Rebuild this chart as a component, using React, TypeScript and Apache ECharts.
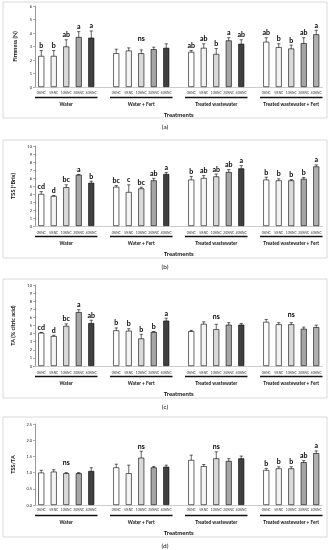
import React, { useEffect, useRef } from "react";
import * as echarts from "echarts";

const doses = ["0%NC", "5%NC", "10%NC", "20%NC", "40%NC"];
const groupNames = ["Water", "Water + Fert", "Treated wastewater", "Treated wastewater + Fert"];

// (a) Firmness (N)
const firmnessMean = [2.3, 2.3, 3.0, 3.7, 3.65, 2.5, 2.7, 2.5, 2.8, 2.9, 2.6, 2.9, 2.45, 3.45, 3.2, 3.35, 2.95, 2.85, 3.25, 3.9];
const firmnessErr = [0.4, 0.4, 0.5, 0.4, 0.5, 0.3, 0.2, 0.25, 0.15, 0.3, 0.1, 0.3, 0.4, 0.2, 0.3, 0.3, 0.25, 0.25, 0.4, 0.3];
const firmnessLetters = ["b", "b", "ab", "a", "a", "", "", "ns", "", "", "ab", "ab", "b", "a", "ab", "ab", "b", "b", "ab", "a"];

// (b) TSS (°Brix)
const tssMean = [4.0, 3.75, 4.85, 6.4, 5.4, 4.9, 4.25, 4.7, 5.7, 6.5, 5.8, 6.0, 6.2, 6.75, 7.2, 5.8, 5.7, 5.7, 5.9, 7.45];
const tssErr = [0.3, 0.05, 0.3, 0.05, 0.2, 0.15, 0.9, 0.15, 0.25, 0.2, 0.4, 0.3, 0.3, 0.3, 0.35, 0.3, 0.2, 0.1, 0.15, 0.2];
const tssLetters = ["cd", "d", "bc", "a", "b", "bc", "c", "bc", "ab", "a", "b", "ab", "ab", "ab", "a", "b", "b", "b", "b", "a"];

// (c) TA (% citric acid)
const taMean = [4.1, 3.7, 4.95, 6.65, 5.3, 4.4, 4.35, 3.4, 4.2, 5.6, 4.3, 5.2, 4.55, 5.1, 5.1, 5.45, 5.15, 5.15, 4.6, 4.8];
const taErr = [0.05, 0.1, 0.25, 0.3, 0.35, 0.3, 0.25, 0.5, 0.05, 0.3, 0.1, 0.25, 0.6, 0.25, 0.15, 0.3, 0.2, 0.2, 0.2, 0.25];
const taLetters = ["cd", "d", "bc", "a", "ab", "b", "b", "b", "b", "a", "", "", "ns", "", "", "", "", "ns", "", ""];

// (d) TSS/TA
const ratioMean = [1.0, 1.03, 0.98, 0.98, 1.05, 1.16, 0.98, 1.46, 1.16, 1.18, 1.39, 1.2, 1.44, 1.36, 1.44, 1.08, 1.13, 1.13, 1.32, 1.6];
const ratioErr = [0.07, 0.06, 0.02, 0.02, 0.1, 0.1, 0.25, 0.2, 0.03, 0.05, 0.15, 0.05, 0.2, 0.07, 0.07, 0.05, 0.05, 0.05, 0.05, 0.07];
const ratioLetters = ["", "", "ns", "", "", "", "", "ns", "", "", "", "", "ns", "", "", "b", "b", "b", "ab", "a"];

const FONT = "Lato";
const fills = ["#ffffff", "#f4f4f4", "#d9d9d9", "#a6a6a6", "#404040"];
const lastGroupFill5 = "#b0b0b0";

const slotOf = (i: number) => Math.floor(i / 5) * 6 + (i % 5);
const catLabels: string[] = [];
for (let g = 0; g < 4; g++) {
  doses.forEach((d) => catLabels.push(d));
  if (g < 3) catLabels.push("");
}

type Panel = {
  mean: number[];
  err: number[];
  letters: string[];
  yName: string;
  max: number;
  interval: number;
  decimals: number;
  top: number;
  height: number;
  boxTop: number;
  boxBottom: number;
  caption: string;
  labelMargin: number;
};

const panels: Panel[] = [
  { mean: firmnessMean, err: firmnessErr, letters: firmnessLetters, yName: "Firmness (N)", max: 6, interval: 1, decimals: 0, top: 6, height: 81, boxTop: 2, boxBottom: 118, caption: "(a)", labelMargin: 4.5 },
  { mean: tssMean, err: tssErr, letters: tssLetters, yName: "TSS (°Brix)", max: 10, interval: 1, decimals: 0, top: 146, height: 80, boxTop: 140, boxBottom: 258, caption: "(b)", labelMargin: 5 },
  { mean: taMean, err: taErr, letters: taLetters, yName: "TA (% citric acid)", max: 10, interval: 1, decimals: 0, top: 285, height: 81, boxTop: 279, boxBottom: 398, caption: "(c)", labelMargin: 5 },
  { mean: ratioMean, err: ratioErr, letters: ratioLetters, yName: "TSS/TA", max: 2.5, interval: 0.5, decimals: 1, top: 424, height: 81, boxTop: 417, boxBottom: 537, caption: "(d)", labelMargin: 3.5 },
];

export default function App() {
  const ref = useRef<HTMLDivElement>(null);
  useEffect(() => {
    if (!ref.current) return;
    const chart = echarts.init(ref.current, null, { renderer: "svg" });
    const grid: any[] = [];
    const xAxis: any[] = [];
    const yAxis: any[] = [];
    const series: any[] = [];
    const graphic: any[] = [];

    panels.forEach((p, k) => {
      grid.push({ left: 35, top: p.top, width: 287.5, height: p.height });
      xAxis.push({
        type: "category",
        gridIndex: k,
        data: catLabels,
        axisLine: { lineStyle: { color: "#bfbfbf", width: 0.8 } },
        axisTick: { show: false },
        axisLabel: { interval: 0, fontSize: 3.2, color: "#333", margin: p.labelMargin, fontFamily: FONT },
        name: "Treatments",
        nameLocation: "middle",
        nameGap: 24,
        nameTextStyle: { fontSize: 6, fontWeight: "bold", color: "#111", fontFamily: FONT },
      });
      yAxis.push({
        type: "value",
        gridIndex: k,
        min: 0,
        max: p.max,
        interval: p.interval,
        splitLine: { show: false },
        axisLine: { show: true, lineStyle: { color: "#7f7f7f", width: 0.8 } },
        axisTick: { show: true, length: 2, lineStyle: { color: "#7f7f7f", width: 0.6 } },
        axisLabel: {
          fontSize: 4,
          color: "#222",
          margin: 3,
          fontFamily: FONT,
          formatter: (v: number) => v.toFixed(p.decimals),
        },
        name: p.yName,
        nameLocation: "middle",
        nameGap: 17,
        nameTextStyle: { fontSize: 5.5, fontWeight: "bold", color: "#111", fontFamily: FONT },
      });

      const barData: any[] = catLabels.map(() => "-");
      p.mean.forEach((v, i) => {
        const g = Math.floor(i / 5);
        const j = i % 5;
        const color = g === 3 && j === 4 ? lastGroupFill5 : fills[j];
        barData[slotOf(i)] = { value: v, itemStyle: { color, borderColor: "#000", borderWidth: 0.6 } };
      });
      series.push({
        type: "bar",
        xAxisIndex: k,
        yAxisIndex: k,
        data: barData,
        barWidth: 6,
        silent: true,
      });

      const groupTop = [0, 1, 2, 3].map((g) => {
        let m = 0;
        for (let j = 0; j < 5; j++) m = Math.max(m, p.mean[g * 5 + j] + p.err[g * 5 + j]);
        return m;
      });

      series.push({
        type: "custom",
        xAxisIndex: k,
        yAxisIndex: k,
        clip: false,
        silent: true,
        data: p.mean.map((v, i) => [slotOf(i), v, i]),
        encode: { x: 0, y: 1 },
        renderItem: (params: any, api: any) => {
          const slot = api.value(0);
          const i = api.value(2);
          const v = p.mean[i];
          const e = p.err[i];
          const top = api.coord([slot, v + e]);
          const bot = api.coord([slot, v - e]);
          const x = top[0];
          const cw = 1.6;
          const ls = { stroke: "#000", lineWidth: 0.6 };
          const children: any[] = [
            { type: "line", shape: { x1: x, y1: top[1], x2: x, y2: bot[1] }, style: ls },
            { type: "line", shape: { x1: x - cw, y1: top[1], x2: x + cw, y2: top[1] }, style: ls },
            { type: "line", shape: { x1: x - cw, y1: bot[1], x2: x + cw, y2: bot[1] }, style: ls },
          ];
          const letter = p.letters[i];
          if (letter) {
            const g = Math.floor(i / 5);
            const ly = letter === "ns" ? api.coord([slot, groupTop[g]])[1] : top[1];
            children.push({
              type: "text",
              style: {
                text: letter,
                x,
                y: ly - 2,
                align: "center",
                verticalAlign: "bottom",
                fontSize: 7,
                fontWeight: "bold",
                fontFamily: FONT,
                fill: "#000",
              },
            });
          }
          return { type: "group", children };
        },
      });

      series.push({
        type: "custom",
        xAxisIndex: k,
        yAxisIndex: k,
        clip: false,
        silent: true,
        data: [0, 1, 2, 3].map((g) => [g * 6, 0, g * 6 + 4, g]),
        encode: { x: 0, y: 1 },
        renderItem: (params: any, api: any) => {
          const s = api.coord([api.value(0), 0]);
          const e = api.coord([api.value(2), 0]);
          const w = api.size([1, 0])[0];
          const g = api.value(3);
          const y0 = s[1];
          return {
            type: "group",
            children: [
              {
                type: "line",
                shape: { x1: s[0] - w / 2, y1: y0 + 10.5, x2: e[0] + w / 2, y2: y0 + 10.5 },
                style: { stroke: "#111", lineWidth: 1.6 },
              },
              {
                type: "text",
                style: {
                  text: groupNames[g],
                  x: (s[0] + e[0]) / 2,
                  y: y0 + 17,
                  align: "center",
                  verticalAlign: "middle",
                  fontSize: 4.8,
                  fontWeight: "bold",
                  fontFamily: FONT,
                  fill: "#111",
                },
              },
            ],
          };
        },
      });

      graphic.push({
        type: "rect",
        shape: { x: 3, y: p.boxTop, width: 324, height: p.boxBottom - p.boxTop },
        style: { fill: "none", stroke: "#d0d0d0", lineWidth: 0.8 },
        silent: true,
      });
      graphic.push({
        type: "text",
        style: {
          text: p.caption,
          x: 165,
          y: p.boxBottom + 8,
          align: "center",
          verticalAlign: "middle",
          fontSize: 6.5,
          fontFamily: FONT,
          fill: "#111",
        },
        silent: true,
      });
    });

    chart.setOption({
      animation: false,
      backgroundColor: "#ffffff",
      textStyle: { fontFamily: FONT },
      grid,
      xAxis,
      yAxis,
      series,
      graphic,
    });
    return () => chart.dispose();
  }, []);
  return (
    <div
      ref={ref}
      style={{ position: "absolute", left: 0, top: 0, width: 330, height: 550, willChange: "transform" }}
    />
  );
}
